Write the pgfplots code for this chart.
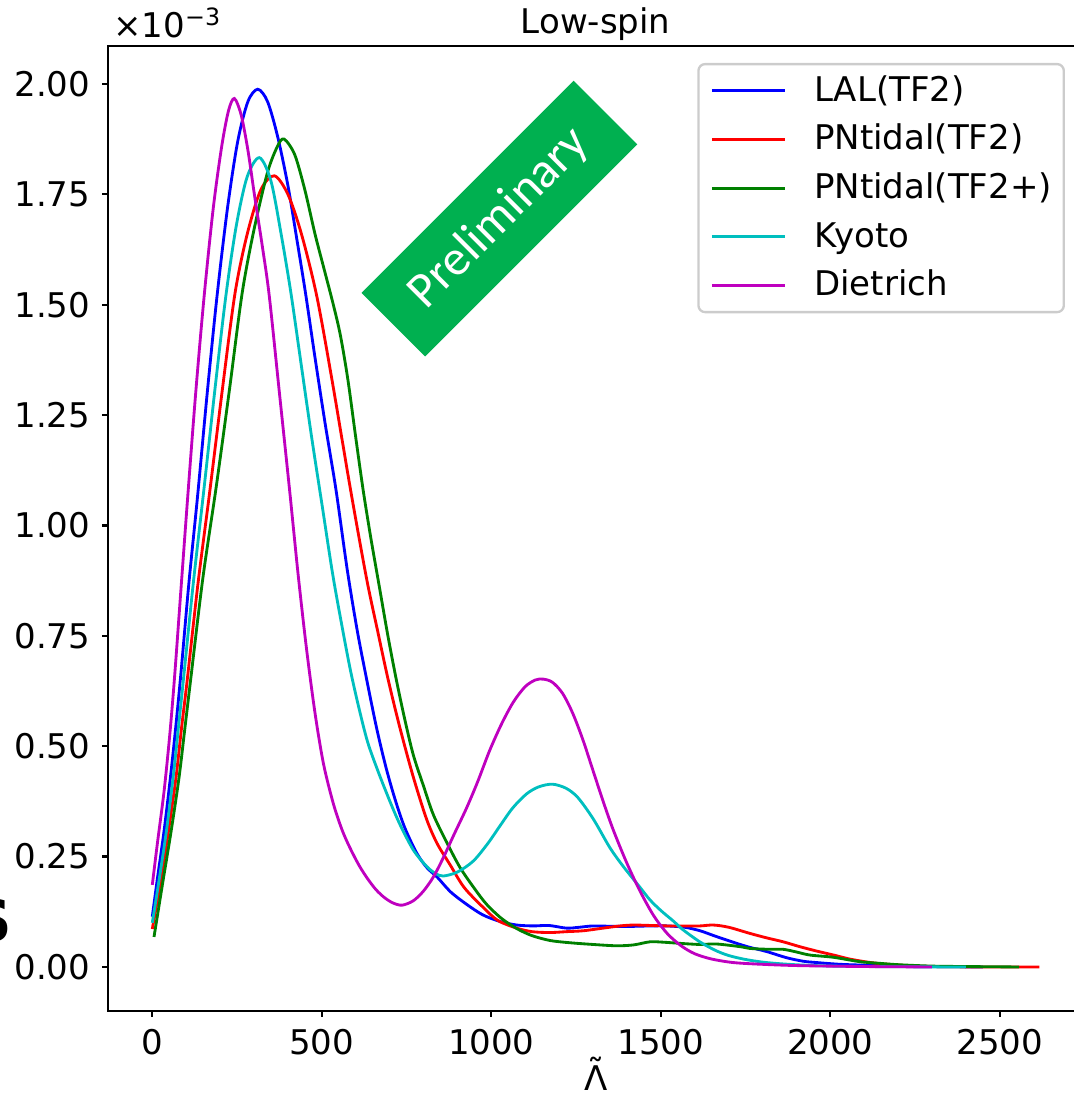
\documentclass[border=0pt]{standalone}
\usepackage{fontspec}
\setmainfont{DejaVu Sans}
\newfontfamily\carlito{Carlito}
\usepackage{pgfplots}
\pgfplotsset{compat=1.18}

\definecolor{mplblue}{rgb}{0,0,1}
\definecolor{mplred}{rgb}{1,0,0}
\definecolor{mplgreen}{rgb}{0,0.5,0}
\definecolor{mplcyan}{rgb}{0,0.75,0.75}
\definecolor{mplmag}{rgb}{0.75,0,0.75}
\definecolor{banner}{HTML}{00B050}

\begin{document}
\begin{tikzpicture}
\begin{axis}[
    at={(0,0)}, anchor=south west,
    scale only axis, width=292.65pt, height=289.5pt,
    xmin=-130.7, xmax=2747, ymin=-0.0997, ymax=2.086,
    xtick={0,500,1000,1500,2000,2500},
    ytick={0,0.25,0.5,0.75,1,1.25,1.5,1.75,2},
    scaled ticks=false,
    tick pos=left, tick align=outside,
    major tick length=1.8pt,
    axis line style={line width=0.7pt},
    every tick/.style={black, line width=0.7pt},
    tick label style={font=\fontsize{10.2}{12}\selectfont},
    /pgf/number format/assume math mode=true,
    /pgf/number format/1000 sep={},
    yticklabel style={/pgf/number format/.cd, fixed, fixed zerofill, precision=2},
    every axis plot/.append style={line width=0.85pt, smooth, tension=0.5},
    legend cell align=left,
    legend style={at={(0.981,0.9824)}, anchor=north east,
        draw=black!20, line width=0.7pt, rounded corners=2pt, fill=white,
        font=\fontsize{10.2}{12}\selectfont,
        inner xsep=3.6pt, inner ysep=3.4pt, row sep=5.4pt,
        nodes={inner sep=0pt},
        /tikz/every even column/.append style={text height=7.7pt, text depth=2.2pt}},
    legend image code/.code={\draw[#1, line width=0.85pt] (0pt,0pt) -- (21.9pt,0pt); \path (30.3pt,0pt);},
]

% LAL(TF2)
\addplot[mplblue] coordinates {
(0,0.114) (15,0.20) (35,0.31) (55,0.44) (70,0.55) (85,0.67) (108,0.87) (134,1.07)
(162,1.30) (191,1.52) (222,1.72) (252,1.87) (282,1.96) (311,1.988) (340,1.96)
(370,1.88) (400,1.77) (426,1.65) (452,1.526) (480,1.38) (510,1.23) (542,1.08)
(575,0.90) (605,0.76) (634,0.645) (662,0.54) (690,0.45) (718,0.375) (745,0.315)
(780,0.258) (810,0.225) (841,0.203) (880,0.17) (927,0.142) (975,0.118) (1026,0.103)
(1075,0.095) (1124,0.093) (1170,0.094) (1222,0.088) (1260,0.090) (1301,0.093)
(1360,0.092) (1419,0.092) (1470,0.093) (1517,0.093) (1570,0.090) (1616,0.082)
(1660,0.070) (1714,0.056) (1760,0.045) (1812,0.035) (1871,0.021) (1920,0.013)
(1960,0.010) (2030,0.006) (2107,0.004) (2200,0.002) (2300,0.001) (2450,0.0)
};
\addlegendentry{LAL(TF2)}

% PNtidal(TF2)
\addplot[mplred] coordinates {
(0,0.086) (25,0.197) (48,0.31) (70,0.43) (86,0.54) (103,0.65) (135,0.87) (170,1.08)
(207,1.31) (244,1.526) (280,1.66) (320,1.76) (360,1.792) (400,1.75) (440,1.66)
(485,1.52) (530,1.33) (585,1.08) (632,0.88) (665,0.76) (696,0.65) (731,0.54)
(770,0.43) (809,0.335) (840,0.28) (878,0.232) (920,0.18) (976,0.135) (1020,0.105)
(1075,0.088) (1120,0.080) (1173,0.078) (1222,0.080) (1271,0.082) (1330,0.088)
(1380,0.093) (1419,0.095) (1470,0.094) (1517,0.093) (1570,0.093) (1616,0.093)
(1655,0.095) (1700,0.090) (1763,0.076) (1812,0.066) (1861,0.057) (1910,0.046)
(1960,0.036) (2010,0.027) (2057,0.018) (2110,0.011) (2156,0.007) (2230,0.003)
(2304,0.001) (2450,0.0) (2617,0.0)
};
\addlegendentry{PNtidal(TF2)}

% PNtidal(TF2+)
\addplot[mplgreen] coordinates {
(5,0.068) (32,0.197) (56,0.31) (79,0.43) (96,0.54) (113,0.65) (149,0.88) (189,1.09)
(228,1.31) (265,1.526) (300,1.67) (340,1.80) (370,1.86) (389,1.875) (420,1.84)
(450,1.76) (480,1.66) (507,1.58) (534,1.50) (555,1.43) (577,1.33) (600,1.20)
(622,1.08) (645,0.97) (670,0.86) (695,0.75) (720,0.65) (745,0.56) (770,0.48)
(800,0.41) (829,0.345) (870,0.28) (908,0.225) (950,0.178) (986,0.142) (1030,0.11)
(1075,0.087) (1120,0.071) (1173,0.060) (1230,0.055) (1300,0.051) (1370,0.048)
(1420,0.050) (1468,0.057) (1510,0.056) (1566,0.053) (1616,0.051) (1665,0.052)
(1734,0.046) (1763,0.042) (1820,0.040) (1861,0.040) (1900,0.034) (1940,0.027)
(2009,0.022) (2087,0.012) (2150,0.008) (2205,0.005) (2300,0.002) (2400,0.001)
(2557,0.0)
};
\addlegendentry{PNtidal(TF2+)}

% Kyoto
\addplot[mplcyan] coordinates {
(0,0.10) (20,0.197) (42,0.31) (63,0.44) (78,0.55) (93,0.66) (121,0.87) (152,1.08)
(185,1.31) (217,1.52) (248,1.68) (280,1.79) (316,1.833) (350,1.78) (380,1.66)
(409,1.526) (440,1.36) (470,1.20) (502,1.04) (532,0.89) (560,0.77) (585,0.67)
(610,0.585) (635,0.51) (665,0.445) (701,0.375) (731,0.322) (770,0.265) (809,0.228)
(835,0.212) (858,0.206) (900,0.215) (947,0.24) (990,0.28) (1026,0.32) (1063,0.36)
(1104,0.392) (1140,0.408) (1180,0.414) (1220,0.405) (1255,0.384) (1301,0.335)
(1350,0.27) (1389,0.228) (1439,0.180) (1468,0.152) (1500,0.128) (1537,0.104)
(1566,0.084) (1615,0.057) (1660,0.038) (1700,0.026) (1750,0.017) (1812,0.010) (1900,0.005)
(2009,0.002) (2200,0.0005) (2400,0.0)
};
\addlegendentry{Kyoto}

% Dietrich
\addplot[mplmag] coordinates {
(0,0.186) (15,0.28) (35,0.40) (52,0.53) (66,0.66) (84,0.85) (104,1.06) (128,1.30)
(153,1.52) (180,1.72) (205,1.86) (225,1.94) (242,1.967) (262,1.93) (282,1.85)
(303,1.74) (325,1.63) (345,1.52) (375,1.30) (405,1.08) (430,0.89) (455,0.72)
(480,0.575) (505,0.46) (534,0.37) (560,0.31) (583,0.27) (610,0.23) (635,0.20)
(660,0.175) (685,0.157) (710,0.145) (737,0.140) (770,0.150) (800,0.172) (830,0.205)
(860,0.25) (890,0.30) (927,0.36) (960,0.42) (995,0.49) (1030,0.55) (1065,0.60)
(1100,0.635) (1130,0.650) (1153,0.652) (1180,0.645) (1210,0.62) (1240,0.575)
(1270,0.515) (1300,0.445) (1330,0.375) (1360,0.31) (1400,0.235) (1440,0.170)
(1480,0.115) (1520,0.075) (1560,0.048) (1600,0.030) (1650,0.018) (1714,0.010)
(1800,0.006) (1910,0.003) (2100,0.001) (2300,0.0)
};
\addlegendentry{Dietrich}

\node[fill=banner, text=white, rotate=45, minimum width=90pt, minimum height=27pt,
      inner sep=0pt, font=\carlito\fontsize{15}{15}\selectfont]
      at (axis cs:1024,1.695) {Preliminary};

\coordinate (O) at (rel axis cs:0,0);
\end{axis}

\node[anchor=base, font=\fontsize{10.2}{12}\selectfont] at ([shift={(146.3pt,293.1pt)}]O) {Low-spin};
\node[anchor=base west, inner sep=0pt, font=\fontsize{10.2}{12}\selectfont] at ([shift={(1.4pt,291.9pt)}]O) {×10\textsuperscript{−3}};
\node[anchor=base, inner sep=0pt, font=\fontsize{10.2}{12}\selectfont] at ([shift={(146.3pt,-23.7pt)}]O) {Λ};
\node[anchor=base, inner sep=0pt, font=\fontsize{10.2}{12}\selectfont] at ([shift={(146.3pt,-21.6pt)}]O) {˜};
\node[anchor=east, inner sep=0pt, font=\fontsize{17.3}{18}\selectfont\bfseries] at ([shift={(-28.6pt,27pt)}]O) {S};

\pgfresetboundingbox
\useasboundingbox ([shift={(-32.4pt,-24.6pt)}]O) rectangle ([shift={(289.5pt,303.3pt)}]O);
\end{tikzpicture}
\end{document}
